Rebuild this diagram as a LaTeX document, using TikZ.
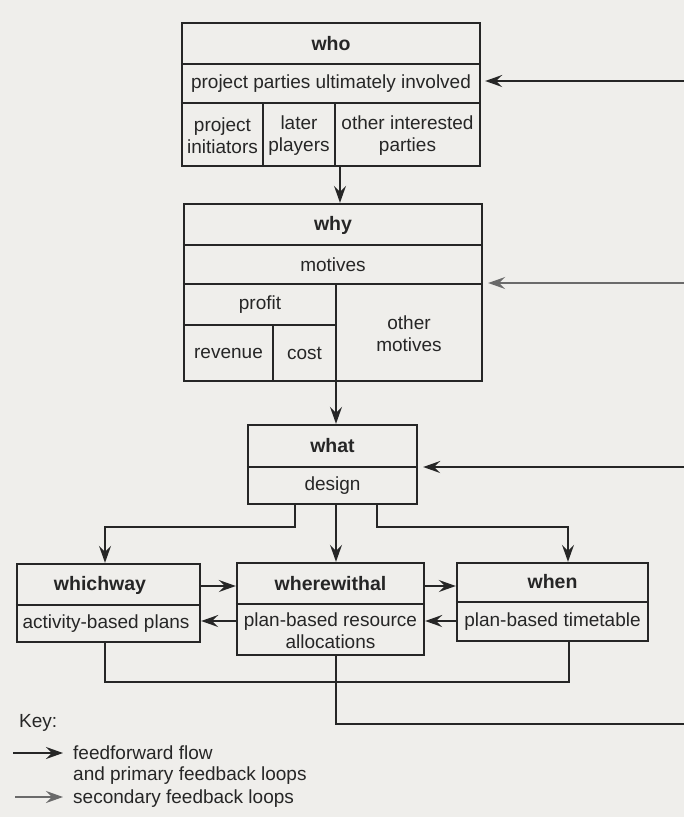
\documentclass[tikz,border=0pt]{standalone}
\usepackage{fontspec}
\setmainfont{Liberation Sans}
\usetikzlibrary{arrows.meta}
\definecolor{paper}{HTML}{EFEEEB}
\definecolor{ink}{HTML}{262626}
\definecolor{inklight}{HTML}{6A6A6A}
\begin{document}
\begin{tikzpicture}[x=1pt,y=-1pt,
  box/.style={draw=ink, line width=2.4pt, inner sep=0pt},
  div/.style={draw=ink, line width=1.8pt},
  txt/.style={inner sep=0pt, text=ink, align=center, font=\fontsize{19}{22}\selectfont},
  ttl/.style={txt, font=\fontsize{19.5}{22}\selectfont\bfseries},
  tip/.style={-{Stealth[length=17pt,width=12pt,inset=6pt]}},
  flow/.style={draw=ink, line width=1.7pt, tip},
  wire/.style={draw=ink, line width=1.7pt},
  second/.style={draw=inklight, line width=1.5pt, -{Stealth[length=17pt,width=12pt,inset=6pt,color=inklight]}}
]
\useasboundingbox (0,0) rectangle (684,817);
\fill[paper] (0,0) rectangle (684,817);

% ---- who ----
\node[box, minimum width=298pt, minimum height=143pt] (who) at (331,94.5) {};
\draw[div] (who.west |- 0,64) -- (who.east |- 0,64);
\draw[div] (who.west |- 0,103) -- (who.east |- 0,103);
\draw[div] (263,103) -- (who.south -| 263,0);
\draw[div] (335,103) -- (who.south -| 335,0);
\node[ttl] (whoT) at (331,44) {who};
\node[txt] (whoA) at (331,84) {project parties ultimately involved};
\node[txt] (whoB) at (222.5,136) {project\\initiators};
\node[txt] (whoC) at (299,136) {later\\players};
\node[txt] (whoD) at (407.5,136) {other interested\\parties};

% ---- why ----
\node[box, minimum width=298pt, minimum height=177pt] (why) at (333,292.5) {};
\draw[div] (why.west |- 0,245) -- (why.east |- 0,245);
\draw[div] (why.west |- 0,284) -- (why.east |- 0,284);
\draw[div] (336,284) -- (why.south -| 336,0);
\draw[div] (why.west |- 0,325) -- (336,325);
\draw[div] (273,325) -- (why.south -| 273,0);
\node[ttl] (whyT) at (333,225) {why};
\node[txt] (whyA) at (333,265) {motives};
\node[txt] (whyB) at (260,304.5) {profit};
\node[txt] (whyC) at (228.5,353) {revenue};
\node[txt] (whyD) at (304.5,353) {cost};
\node[txt] (whyE) at (409,334) {other\\motives};

% ---- what ----
\node[box, minimum width=169pt, minimum height=79pt] (what) at (332.5,464.5) {};
\draw[div] (what.west |- 0,467) -- (what.east |- 0,467);
\node[ttl] (whatT) at (332.5,446) {what};
\node[txt] (whatA) at (332.5,486) {design};

% ---- whichway ----
\node[box, minimum width=183pt, minimum height=78pt] (whichway) at (108.5,603) {};
\draw[div] (whichway.west |- 0,605) -- (whichway.east |- 0,605);
\node[ttl] (whichwayT) at (100,585) {whichway};
\node[txt] (whichwayA) at (106,624) {activity-based plans};

% ---- wherewithal ----
\node[box, minimum width=187pt, minimum height=92pt] (wherewithal) at (330.5,609) {};
\draw[div] (wherewithal.west |- 0,604) -- (wherewithal.east |- 0,604);
\node[ttl] (wherewithalT) at (330.5,583.5) {wherewithal};
\node[txt] (wherewithalA) at (330.5,631) {plan-based resource\\allocations};

% ---- when ----
\node[box, minimum width=191pt, minimum height=78pt] (when) at (552.5,602) {};
\draw[div] (when.west |- 0,602) -- (when.east |- 0,602);
\node[ttl] (whenT) at (552.5,582) {when};
\node[txt] (whenA) at (552.5,622) {plan-based timetable};

% ---- feedforward connectors ----
\draw[flow] (who.south -| 340,0) -- (why.north -| 340,0);
\draw[flow] (why.south -| 336,0) -- (what.north -| 336,0);
\coordinate (jL) at (105,527);
\coordinate (jR) at (568,527);
\draw[flow] (what.south -| 295,0) |- (jL) -- (whichway.north -| jL);
\draw[flow] (what.south -| 336,0) -- (wherewithal.north -| 336,0);
\draw[flow] (what.south -| 377,0) |- (jR) -- (when.north -| jR);
\draw[flow] (whichway.east |- 0,586) -- (wherewithal.west |- 0,586);
\draw[flow] (wherewithal.east |- 0,586) -- (when.west |- 0,586);
\draw[flow] (when.west |- 0,621) -- (wherewithal.east |- 0,621);
\draw[flow] (wherewithal.west |- 0,621) -- (whichway.east |- 0,621);

% ---- primary feedback loop ----
\coordinate (bj) at (336,682);
\coordinate (loopB) at (684,724);
\draw[wire] (whichway.south -| 105,0) |- (bj);
\draw[wire] (when.south -| 569,0) |- (bj);
\draw[wire] (wherewithal.south -| bj) -- (bj) |- (loopB);
\coordinate (inWho) at (684,81);
\coordinate (inWhy) at (684,283);
\coordinate (inWhat) at (684,467);
\draw[flow, shorten >=4pt] (inWho) -- (who.east |- inWho);
\draw[second, shorten >=5pt] (inWhy) -- (why.east |- inWhy);
\draw[flow, shorten >=5pt] (inWhat) -- (what.east |- inWhat);

% ---- key ----
\node[txt, anchor=west] (key) at (19,723) {Key:};
\coordinate (k1a) at (13,753);
\coordinate (k1b) at (63,753);
\coordinate (k2a) at (15,797);
\coordinate (k2b) at (63,797);
\draw[flow] (k1a) -- (k1b);
\draw[second] (k2a) -- (k2b);
\node[txt, anchor=west] (keyA) at (73,753) {feedforward flow};
\node[txt, anchor=west] (keyB) at (73,776) {and primary feedback loops};
\node[txt, anchor=west] (keyC) at (73,799) {secondary feedback loops};
\end{tikzpicture}
\end{document}
